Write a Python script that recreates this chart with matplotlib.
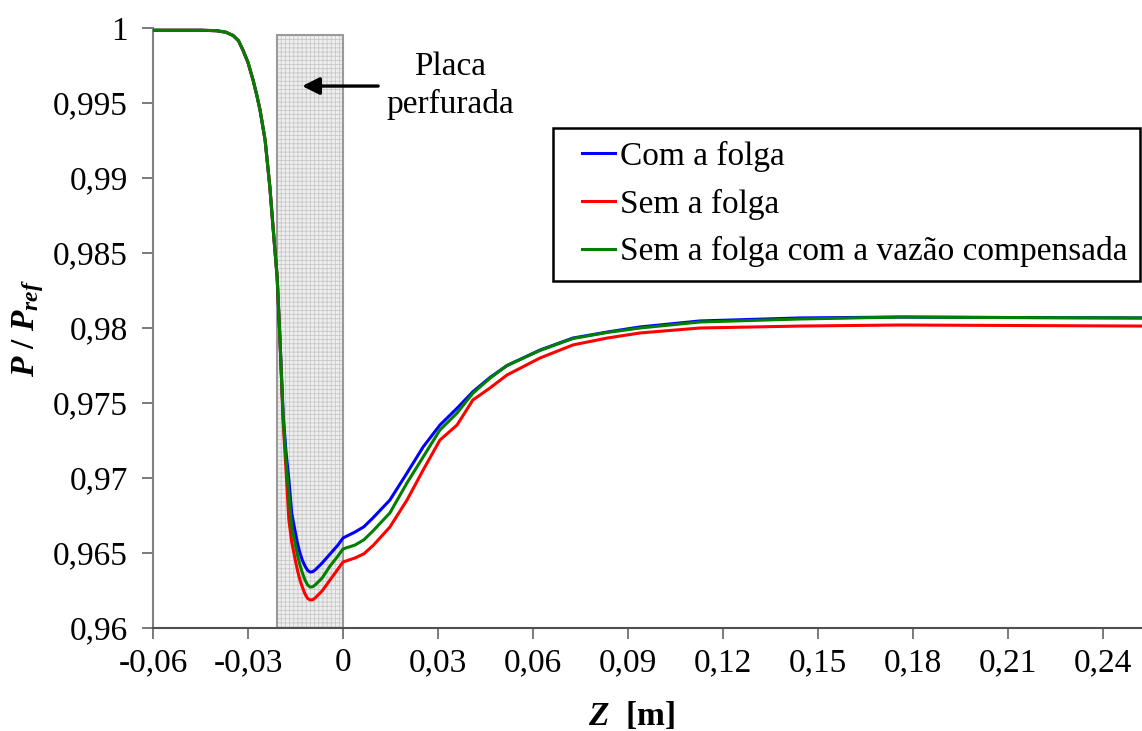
import matplotlib
matplotlib.use("Agg")
import matplotlib.pyplot as plt
from matplotlib.patches import Rectangle
from matplotlib.transforms import IdentityTransform
from matplotlib.ticker import FuncFormatter, MultipleLocator

# ---- data ----
z = [-0.06, -0.045, -0.040, -0.037, -0.0347, -0.033, -0.0316, -0.030, -0.0284, -0.0272,
     -0.0262, -0.0246, -0.0231, -0.0221, -0.0208, -0.0199, -0.0189, -0.018, -0.0171,
     -0.0162, -0.0152, -0.0144, -0.0136, -0.0128, -0.012, -0.0112, -0.0104, -0.0096,
     -0.0088, -0.0066, -0.0041, -0.0016, 0.0, 0.0038, 0.0066, 0.0095, 0.0148, 0.0202,
     0.0253, 0.0306, 0.036, 0.041, 0.0464, 0.0518, 0.0622, 0.0726, 0.0834, 0.0938,
     0.1127, 0.1443, 0.1759, 0.2075, 0.2523]

com_folga = [0.99985, 0.99985, 0.99982, 0.99972, 0.9995, 0.99915, 0.99853, 0.9977, 0.99653, 0.9955,
             0.99453, 0.99253, 0.9894, 0.98673, 0.9834, 0.9792, 0.9742, 0.97173, 0.9699,
             0.96767, 0.96653, 0.96567, 0.965, 0.9645, 0.96413, 0.96385, 0.96373, 0.96375,
             0.96387, 0.96433, 0.96493, 0.96553, 0.966, 0.9664, 0.96675, 0.96735, 0.96853, 0.97033,
             0.97207, 0.97353, 0.97465, 0.97575, 0.9767, 0.9775, 0.97853, 0.97933, 0.97973, 0.98007,
             0.98047, 0.98067, 0.98073, 0.9807, 0.98067]

sem_folga = [0.99985, 0.99985, 0.99982, 0.99972, 0.9995, 0.99915, 0.99853, 0.9977, 0.99653, 0.9955,
             0.99453, 0.99253, 0.9894, 0.98673, 0.9834, 0.9792, 0.9737, 0.97053, 0.9672,
             0.96573, 0.96467, 0.96387, 0.9632, 0.9627, 0.96227, 0.96198, 0.96187, 0.96188,
             0.962, 0.96247, 0.9632, 0.96393, 0.9644, 0.96467, 0.96495, 0.9655, 0.96673, 0.96853,
             0.97053, 0.97253, 0.97353, 0.9752, 0.976, 0.97687, 0.978, 0.97887, 0.97933, 0.97967,
             0.98, 0.98013, 0.9802, 0.98017, 0.98013]

sem_folga_comp = [0.99985, 0.99985, 0.99982, 0.99972, 0.9995, 0.99915, 0.99853, 0.9977, 0.99653, 0.9955,
                  0.99453, 0.99253, 0.9894, 0.98673, 0.9834, 0.9792, 0.974, 0.9712, 0.9689,
                  0.96673, 0.96573, 0.96487, 0.9642, 0.96365, 0.9632, 0.96288, 0.96273, 0.96275,
                  0.96287, 0.96333, 0.96413, 0.9648, 0.96527, 0.96553, 0.96588, 0.96648, 0.96767, 0.96967,
                  0.9714, 0.9732, 0.97433, 0.97565, 0.97665, 0.9775, 0.9785, 0.9793, 0.9797, 0.98,
                  0.9804, 0.9806, 0.98073, 0.9807, 0.98067]

labels = ["Com a folga", "Sem a folga", "Sem a folga com a vazão compensada"]
colors = ["#0000ff", "#ff0000", "#008000"]

plate_start, plate_end, plate_top = -0.0208, 0.0, 0.9995
xticks = [-0.06, -0.03, 0, 0.03, 0.06, 0.09, 0.12, 0.15, 0.18, 0.21, 0.24]

# ---- style ----
plt.rcParams['font.family'] = ['Liberation Serif', 'DejaVu Serif']
plt.rcParams['mathtext.fontset'] = 'custom'
plt.rcParams['mathtext.it'] = 'Liberation Serif:italic:bold'
plt.rcParams['mathtext.rm'] = 'Liberation Serif:bold'
plt.rcParams['mathtext.bf'] = 'Liberation Serif:bold'
plt.rcParams['hatch.linewidth'] = 0.6
plt.rcParams['hatch.color'] = '#c8c8c8'

fig = plt.figure(figsize=(11.42, 7.31), dpi=100)
ax = fig.add_axes([153/1142, 1 - 628/731, 1 - 153/1142, 600/731])

# plate region
ax.add_patch(Rectangle((plate_start, 0.96), plate_end - plate_start, plate_top - 0.96,
                       facecolor='#eeeeee', hatch='++++', edgecolor='#c8c8c8', linewidth=0, zorder=1))
ax.add_patch(Rectangle((plate_start, 0.96), plate_end - plate_start, plate_top - 0.96,
                       fill=False, edgecolor='#9a9a9a', linewidth=1.5, zorder=1.5))

for ys, lab, c in zip([com_folga, sem_folga, sem_folga_comp], labels, colors):
    ax.plot(z, ys, color=c, lw=2.2, label=lab, zorder=3, solid_joinstyle='round')

ax.set_xlim(-0.06, 0.2523)
ax.set_ylim(0.96, 1.0)
ax.set_xticks(xticks)
ax.yaxis.set_major_locator(MultipleLocator(0.005))


def fmt(v, pos, nd):
    v = round(v, nd) + 0.0
    s = f"{v:.{nd}f}".rstrip('0').rstrip('.')
    if s in ('-0', ''):
        s = '0'
    return s.replace('.', ',')


ax.xaxis.set_major_formatter(FuncFormatter(lambda v, p: fmt(v, p, 2)))
ax.yaxis.set_major_formatter(FuncFormatter(lambda v, p: fmt(v, p, 3)))

for s in ['top', 'right']:
    ax.spines[s].set_visible(False)
ax.spines['left'].set_color('#808080')
ax.spines['bottom'].set_color('#505050')
ax.spines['left'].set_linewidth(1.5)
ax.spines['bottom'].set_linewidth(1.5)
ax.tick_params(axis='both', direction='out', length=8, width=1.3, color='#707070',
               labelsize=24)
ax.tick_params(axis='y', pad=10)
ax.tick_params(axis='x', pad=6)

ax.set_ylabel(r'$P$ / $P_{ref}$', fontsize=24, fontweight='bold', labelpad=5)
ax.set_xlabel(r'$Z$  [m]', fontsize=24, fontweight='bold')
ax.xaxis.set_label_coords((631 - 153) / 989, -(700 - 628) / 600)

# annotation
ax.annotate('', xy=(-0.0129, 0.99613), xytext=(0.0111, 0.99613),
            arrowprops=dict(arrowstyle='-|>', color='black', lw=2.4, mutation_scale=26,
                            shrinkA=0, shrinkB=0), zorder=4)
ax.text(0.0338, 0.99617, "Placa\nperfurada", ha='center', va='center', fontsize=24,
        linespacing=1.3, zorder=4)

leg = ax.legend(loc='upper right', bbox_to_anchor=(0.999, 0.834), fontsize=24,
                frameon=False, handlelength=1.0, handletextpad=0.15, labelspacing=0.5,
                borderpad=0.4, borderaxespad=0)
leg.set_zorder(5)

fig.canvas.draw()
bb = leg.get_window_extent()
extra = 16
frame = Rectangle((bb.x0 - extra, bb.y0), bb.width + extra - 1, bb.height,
                  transform=IdentityTransform(), facecolor='white', edgecolor='black',
                  linewidth=1.8, zorder=4.5, clip_on=False)
ax.add_artist(frame)

fig.savefig('out.png', dpi=100)
